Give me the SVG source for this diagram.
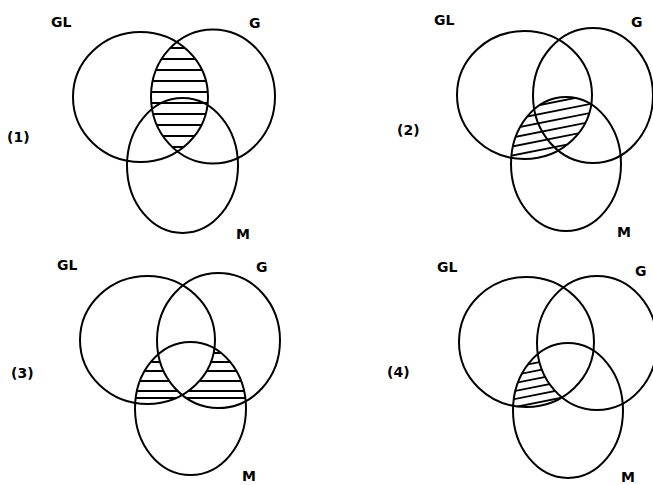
<svg xmlns="http://www.w3.org/2000/svg" width="653" height="485" viewBox="0 0 653 485">
<style>
.c{fill:none;stroke:#000;stroke-width:2}
.h{stroke:#000;stroke-width:1.9;fill:none}
.t{font-family:"DejaVu Sans","Liberation Sans",sans-serif;font-weight:bold;font-size:14px;fill:#000}
</style>
<defs>
<clipPath id="c1gl"><ellipse cx="140.5" cy="97" rx="67.5" ry="65"/></clipPath>
<clipPath id="c1g"><ellipse cx="213" cy="96.5" rx="62" ry="67"/></clipPath>
<clipPath id="c2gl"><ellipse cx="524.5" cy="95" rx="67.5" ry="64"/></clipPath>
<clipPath id="c2m"><ellipse cx="566" cy="164" rx="55" ry="67"/></clipPath>
<clipPath id="c3m"><ellipse cx="190.5" cy="408.5" rx="55.5" ry="66.5"/></clipPath>
<mask id="m3a" maskUnits="userSpaceOnUse" x="0" y="240" width="330" height="245"><ellipse cx="147.5" cy="340" rx="67.5" ry="64" fill="#fff"/><ellipse cx="218.5" cy="340.5" rx="61.5" ry="67.5" fill="#000"/></mask>
<mask id="m3b" maskUnits="userSpaceOnUse" x="0" y="240" width="330" height="245"><ellipse cx="218.5" cy="340.5" rx="61.5" ry="67.5" fill="#fff"/><ellipse cx="147.5" cy="340" rx="67.5" ry="64" fill="#000"/></mask>
<clipPath id="c4gl"><ellipse cx="526.5" cy="342" rx="67.5" ry="65"/></clipPath>
<clipPath id="c4m"><ellipse cx="568" cy="410.5" rx="55" ry="67.5"/></clipPath>
<mask id="m4" maskUnits="userSpaceOnUse" x="330" y="240" width="323" height="245"><rect x="330" y="240" width="323" height="245" fill="#fff"/><ellipse cx="597" cy="343" rx="60" ry="67" fill="#000"/></mask>
</defs>
<rect width="653" height="485" fill="#fff"/>

<g id="diagram1">
<g id="d1-hatch" clip-path="url(#c1gl)"><g clip-path="url(#c1g)">
<path class="h" d="M140 38H220M140 48H220M140 59H220M140 70H220M140 81H220M140 92H220M140 103H220M140 114H220M140 125H220M140 136H220M140 147H220"/>
</g></g>
<g id="d1-GL"><ellipse class="c" cx="140.5" cy="97" rx="67.5" ry="65"/><text class="t" x="51" y="27">GL</text></g>
<g id="d1-G"><ellipse class="c" cx="213" cy="96.5" rx="62" ry="67"/><text class="t" x="249" y="28">G</text></g>
<g id="d1-M"><ellipse class="c" cx="182.5" cy="165.5" rx="55.5" ry="67.5"/><text class="t" x="236" y="239">M</text></g>
<text id="d1-label" class="t" x="7" y="142">(1)</text>
</g>

<g id="diagram2">
<g id="d2-hatch" clip-path="url(#c2gl)"><g clip-path="url(#c2m)">
<path class="h" d="M500 104L610 82M500 113L610 91M500 122L610 100M500 131L610 109M500 140L610 118M500 149L610 127M500 158L610 136M500 167L610 145M500 176L610 154M500 185L610 163"/>
</g></g>
<g id="d2-GL"><ellipse class="c" cx="524.5" cy="95" rx="67.5" ry="64"/><text class="t" x="434" y="25">GL</text></g>
<g id="d2-G"><ellipse class="c" cx="593" cy="95.5" rx="60" ry="67.5"/><text class="t" x="631" y="27">G</text></g>
<g id="d2-M"><ellipse class="c" cx="566" cy="164" rx="55" ry="67"/><text class="t" x="617" y="237">M</text></g>
<text id="d2-label" class="t" x="397" y="135">(2)</text>
</g>

<g id="diagram3">
<g id="d3-hatch" clip-path="url(#c3m)">
<g mask="url(#m3a)"><path class="h" d="M130 353H260M130 362H260M130 371H260M130 381H260M130 391H260M130 398H260"/></g>
<g mask="url(#m3b)"><path class="h" d="M130 353H260M130 362H260M130 371H260M130 381H260M130 391H260M130 398H260"/></g>
</g>
<g id="d3-GL"><ellipse class="c" cx="147.5" cy="340" rx="67.5" ry="64"/><text class="t" x="57" y="270">GL</text></g>
<g id="d3-G"><ellipse class="c" cx="218.5" cy="340.5" rx="61.5" ry="67.5"/><text class="t" x="256" y="272">G</text></g>
<g id="d3-M"><ellipse class="c" cx="190.5" cy="408.5" rx="55.5" ry="66.5"/><text class="t" x="242" y="481">M</text></g>
<text id="d3-label" class="t" x="11" y="378">(3)</text>
</g>

<g id="diagram4">
<g id="d4-hatch" clip-path="url(#c4gl)"><g clip-path="url(#c4m)"><g mask="url(#m4)">
<path class="h" d="M500 370L600 350M500 378L600 358M500 386L600 366M500 394L600 374M500 402L600 382M500 410L600 390M500 418L600 398M500 426L600 406"/>
</g></g></g>
<g id="d4-GL"><ellipse class="c" cx="526.5" cy="342" rx="67.5" ry="65"/><text class="t" x="437" y="272">GL</text></g>
<g id="d4-G"><ellipse class="c" cx="597" cy="343" rx="60" ry="67"/><text class="t" x="635" y="276">G</text></g>
<g id="d4-M"><ellipse class="c" cx="568" cy="410.5" rx="55" ry="67.5"/><text class="t" x="621" y="482">M</text></g>
<text id="d4-label" class="t" x="387" y="377">(4)</text>
</g>
</svg>
